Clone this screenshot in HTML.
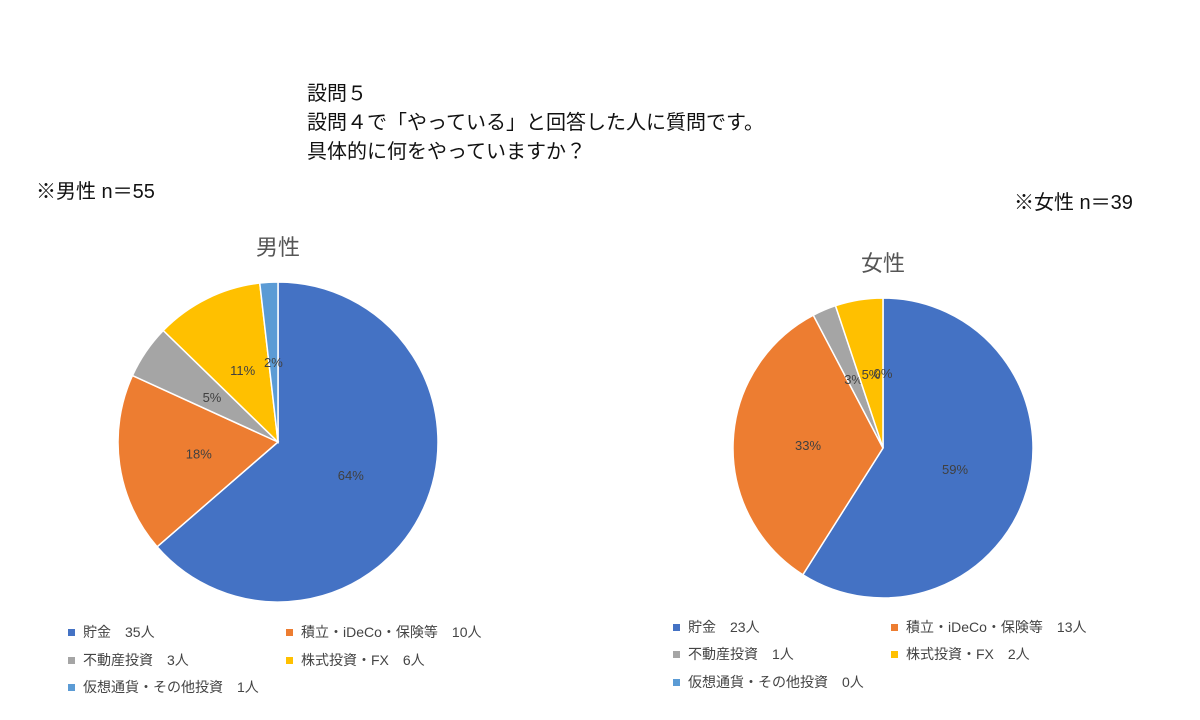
<!DOCTYPE html>
<html><head><meta charset="utf-8">
<style>
body{margin:0;width:1200px;height:720px;background:#fff;font-family:"Liberation Sans","Noto Sans CJK JP",sans-serif;overflow:hidden;position:relative}
.t{position:absolute;color:#111;white-space:nowrap}
.lg{position:absolute;font-size:14px;color:#444;white-space:nowrap}
.lg i{display:inline-block;width:7px;height:7px;margin-right:8px;vertical-align:middle;position:relative;top:-1px}
</style></head><body>
<div class="t" style="left:307px;top:80px;font-size:20px;line-height:29px">設問５<br>設問４で「やっている」と回答した人に質問です。<br>具体的に何をやっていますか？</div>
<div class="t" style="left:36px;top:175px;font-size:20px">※男性 n＝55</div>
<div class="t" style="left:1014px;top:186px;font-size:20px">※女性 n＝39</div>
<svg id="chart" width="1200" height="720" style="position:absolute;left:0;top:0">
<text x="278" y="255" text-anchor="middle" font-size="22" fill="#555" font-family="Liberation Sans,Noto Sans CJK JP,sans-serif">男性</text>
<text x="883" y="271" text-anchor="middle" font-size="22" fill="#555" font-family="Liberation Sans,Noto Sans CJK JP,sans-serif">女性</text>
</svg>
<div>
<div class="lg" style="left:68px;top:622px"><i style="background:#4472C4"></i>貯金　35人</div>
<div class="lg" style="left:286px;top:622px"><i style="background:#ED7D31"></i>積立・iDeCo・保険等　10人</div>
<div class="lg" style="left:68px;top:650px"><i style="background:#A5A5A5"></i>不動産投資　3人</div>
<div class="lg" style="left:286px;top:650px"><i style="background:#FFC000"></i>株式投資・FX　6人</div>
<div class="lg" style="left:68px;top:677px"><i style="background:#5B9BD5"></i>仮想通貨・その他投資　1人</div>
</div>
<div>
<div class="lg" style="left:673px;top:617px"><i style="background:#4472C4"></i>貯金　23人</div>
<div class="lg" style="left:891px;top:617px"><i style="background:#ED7D31"></i>積立・iDeCo・保険等　13人</div>
<div class="lg" style="left:673px;top:644px"><i style="background:#A5A5A5"></i>不動産投資　1人</div>
<div class="lg" style="left:891px;top:644px"><i style="background:#FFC000"></i>株式投資・FX　2人</div>
<div class="lg" style="left:673px;top:672px"><i style="background:#5B9BD5"></i>仮想通貨・その他投資　0人</div>
</div>
<script>
const categories=["貯金","積立・iDeCo・保険等","不動産投資","株式投資・FX","仮想通貨・その他投資"];
const maleValues=[35,10,3,6,1];
const femaleValues=[23,13,1,2,0];
const colors=["#4472C4","#ED7D31","#A5A5A5","#FFC000","#5B9BD5"];
const svg=document.getElementById('chart');
const NS="http://www.w3.org/2000/svg";
function drawPie(vals,cx,cy,r,prefix){
  const total=vals.reduce((a,b)=>a+b,0);
  let a0=-Math.PI/2;
  vals.forEach((v,i)=>{
    const a1=a0+v/total*2*Math.PI;
    if(v>0){
      const p=document.createElementNS(NS,'path');
      const large=(a1-a0)>Math.PI?1:0;
      const x0=cx+r*Math.cos(a0),y0=cy+r*Math.sin(a0),x1=cx+r*Math.cos(a1),y1=cy+r*Math.sin(a1);
      p.setAttribute('d',`M${cx},${cy}L${x0},${y0}A${r},${r} 0 ${large} 1 ${x1},${y1}Z`);
      p.setAttribute('fill',colors[i]);
      p.setAttribute('stroke','#fff');
      p.setAttribute('stroke-width','1.5');
      
      
      svg.appendChild(p);
    }
    const am=(a0+a1)/2;
    const t=document.createElementNS(NS,'text');
    t.setAttribute('x',cx+r*0.5*Math.cos(am));
    t.setAttribute('y',cy+r*0.5*Math.sin(am)+5);
    t.setAttribute('text-anchor','middle');
    t.setAttribute('font-size','13');
    t.setAttribute('fill','#404040');
    t.setAttribute('font-family','Liberation Sans,sans-serif');
    t.textContent=Math.round(v/total*100)+'%';
    
    
    svg.appendChild(t);
    a0=a1;
  });
}
drawPie(maleValues,278,442,160,'male');
drawPie(femaleValues,883,448,150,'female');
</script>
</body></html>
